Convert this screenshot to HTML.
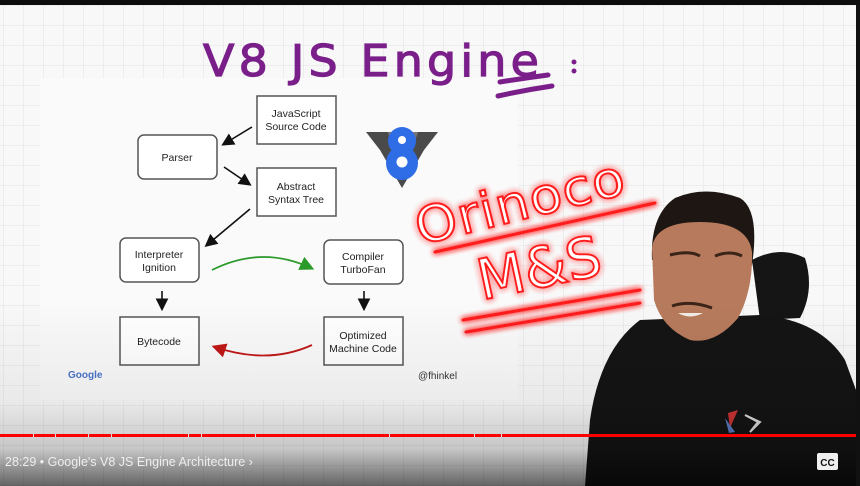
<!DOCTYPE html>
<html><head><meta charset="utf-8"><style>
html,body{margin:0;padding:0;width:860px;height:486px;overflow:hidden;background:#0d0d0d}
</style></head><body>
<svg width="860" height="486" viewBox="0 0 860 486" xmlns="http://www.w3.org/2000/svg" font-family="Liberation Sans, sans-serif">
<defs>
<pattern id="grid" width="20" height="20" patternUnits="userSpaceOnUse" x="4" y="6">
<path d="M20 0V20M0 20H20" stroke="#e2e2e2" stroke-width="1" fill="none"/>
</pattern>
<linearGradient id="fade" x1="0" y1="0" x2="0" y2="1">
<stop offset="0" stop-color="#000" stop-opacity="0"/>
<stop offset="0.55" stop-color="#000" stop-opacity="0.06"/>
<stop offset="0.8" stop-color="#000" stop-opacity="0.2"/>
<stop offset="1" stop-color="#000" stop-opacity="0.6"/>
</linearGradient>
<filter id="glow" x="-20%" y="-20%" width="140%" height="140%">
<feGaussianBlur stdDeviation="3" result="b"/>
<feMerge><feMergeNode in="b"/><feMergeNode in="b"/><feMergeNode in="SourceGraphic"/></feMerge>
</filter>
<marker id="ak" markerWidth="8" markerHeight="8" refX="6" refY="4" orient="auto"><path d="M0,0 L8,4 L0,8z" fill="#111"/></marker>
<marker id="ag" markerWidth="8" markerHeight="8" refX="6" refY="4" orient="auto"><path d="M0,0 L8,4 L0,8z" fill="#2a9a2a"/></marker>
<marker id="ar" markerWidth="8" markerHeight="8" refX="6" refY="4" orient="auto"><path d="M0,0 L8,4 L0,8z" fill="#c01818"/></marker>
</defs>
<rect x="0" y="5" width="856" height="481" fill="#f8f8f8"/>
<rect x="0" y="5" width="856" height="481" fill="url(#grid)"/>
<rect x="40" y="78" width="478" height="322" fill="#fafafa"/>
<!-- handwritten title -->
<text x="203" y="76" font-size="44" fill="#7a1f8a" stroke="#7a1f8a" stroke-width="1.2" font-family="DejaVu Sans, sans-serif" letter-spacing="4" textLength="340" lengthAdjust="spacingAndGlyphs">V8 JS Engine</text>
<path d="M500 82 Q525 78 548 75" stroke="#7a1f8a" stroke-width="5" fill="none" stroke-linecap="round"/>
<path d="M498 96 Q525 90 552 86" stroke="#7a1f8a" stroke-width="5" fill="none" stroke-linecap="round"/>
<circle cx="574" cy="62" r="2.5" fill="#7a1f8a"/><circle cx="574" cy="71" r="2.5" fill="#7a1f8a"/>
<!-- diagram -->
<g fill="#fff" stroke="#555" stroke-width="1.5">
<rect x="257" y="96" width="79" height="48"/>
<rect x="138" y="135" width="79" height="44" rx="6"/>
<rect x="257" y="168" width="79" height="48"/>
<rect x="120" y="238" width="79" height="44" rx="6"/>
<rect x="324" y="240" width="79" height="44" rx="6"/>
<rect x="120" y="317" width="79" height="48"/>
<rect x="324" y="317" width="79" height="48"/>
</g>
<g font-size="10.5" fill="#222" text-anchor="middle">
<text x="296" y="117">JavaScript</text><text x="296" y="130">Source Code</text>
<text x="177" y="161">Parser</text>
<text x="296" y="190">Abstract</text><text x="296" y="203">Syntax Tree</text>
<text x="159" y="258">Interpreter</text><text x="159" y="271">Ignition</text>
<text x="363" y="260">Compiler</text><text x="363" y="273">TurboFan</text>
<text x="159" y="345">Bytecode</text>
<text x="363" y="339">Optimized</text><text x="363" y="352">Machine Code</text>
</g>
<g stroke="#111" stroke-width="1.6" fill="none" marker-end="url(#ak)">
<path d="M252 127 L224 144"/>
<path d="M224 167 L249 184"/>
<path d="M250 209 L207 245"/>
<path d="M162 291 L162 308"/>
<path d="M364 291 L364 308"/>
</g>
<path d="M212 270 Q262 245 311 268" stroke="#2a9a2a" stroke-width="1.8" fill="none" marker-end="url(#ag)"/>
<path d="M312 345 Q268 365 215 347" stroke="#c01818" stroke-width="1.8" fill="none" marker-end="url(#ar)"/>
<text x="68" y="378" font-size="10" fill="#4a74c9" font-weight="bold">Google</text>
<text x="418" y="379" font-size="10" fill="#333">@fhinkel</text>
<!-- V8 logo -->
<path d="M366 132 L438 132 L424 150 L402 188 L380 150z" fill="#4a4a4a"/>
<path d="M388 132 L418 132 L412 150 L402 170 L392 150z" fill="#777"/>
<ellipse cx="402" cy="141" rx="14" ry="14" fill="#2f6de6"/>
<ellipse cx="402" cy="163" rx="16" ry="17" fill="#2f6de6"/>
<circle cx="402" cy="140" r="4" fill="#fff"/><circle cx="402" cy="162" r="5.5" fill="#fff"/>
<!-- neon -->
<g filter="url(#glow)" stroke="#ff1a1a" stroke-width="2.5" fill="none" stroke-linecap="round">
<text x="420" y="245" font-size="50" font-family="DejaVu Sans, sans-serif" fill="#fff" stroke="#ff1a1a" stroke-width="2" letter-spacing="1" transform="rotate(-14 420 245)" textLength="215" lengthAdjust="spacingAndGlyphs">Orinoco</text>
<text x="482" y="300" font-size="56" font-family="DejaVu Sans, sans-serif" fill="#fff" stroke="#ff1a1a" stroke-width="2" transform="rotate(-12 482 300)" textLength="125" lengthAdjust="spacingAndGlyphs">M&amp;S</text>
<path d="M435 252 L655 203" stroke-width="3"/>
<path d="M463 320 L640 290" stroke-width="3"/>
<path d="M466 332 L640 303" stroke-width="3"/>
</g>
<!-- person -->
<path d="M752 260 Q780 245 805 258 Q815 290 800 318 L760 320z" fill="#151515"/>
<path d="M585 486 L590 420 Q600 350 640 320 L760 315 Q820 320 845 360 L856 390 L856 486z" fill="#141414"/>
<path d="M652 260 Q650 215 675 198 Q705 185 740 198 Q760 210 752 265 L705 260z" fill="#1e1612"/>
<path d="M652 248 Q655 222 700 222 Q748 222 752 252 Q753 290 738 318 Q715 345 690 340 Q662 328 654 300z" fill="#b77a5c"/>
<path d="M670 255 Q690 250 700 256 M715 256 Q730 250 742 256" stroke="#3a2418" stroke-width="3" fill="none"/>
<path d="M672 306 Q690 300 712 308" stroke="#3a2418" stroke-width="3" fill="none"/>
<path d="M678 313 Q690 320 703 313" fill="#f1ece6"/>
<path d="M728 413 L738 410 L730 428z" fill="#c33"/><path d="M725 418 L735 432 L729 433z" fill="#5a7ac0"/>
<path d="M745 415 L760 422 L750 432 L758 422z" fill="#ddd" stroke="#ddd" stroke-width="2"/>
<rect x="856" y="0" width="4" height="486" fill="#111"/>
<rect x="0" y="0" width="860" height="5" fill="#0d0d0d"/>
<!-- bottom overlay -->
<rect x="0" y="300" width="856" height="186" fill="url(#fade)"/>
<rect x="0" y="434" width="856" height="3" fill="#ff0000"/>
<g fill="#ddd"><rect x="33" y="434" width="1" height="3"/><rect x="55" y="434" width="1" height="3"/><rect x="88" y="434" width="1" height="3"/><rect x="111" y="434" width="1" height="3"/><rect x="188" y="434" width="1" height="3"/><rect x="201" y="434" width="1" height="3"/><rect x="255" y="434" width="1" height="3"/><rect x="389" y="434" width="1" height="3"/><rect x="474" y="434" width="1" height="3"/><rect x="501" y="434" width="1" height="3"/></g>
<text x="5" y="466" font-size="12.5" fill="#eee">28:29  •  Google's V8 JS Engine Architecture ›</text>
<rect x="817" y="453" width="21" height="17" rx="2" fill="#f0f0f0"/>
<text x="827.5" y="466" font-size="10" font-weight="bold" fill="#111" text-anchor="middle">CC</text>
</svg>
</body></html>
